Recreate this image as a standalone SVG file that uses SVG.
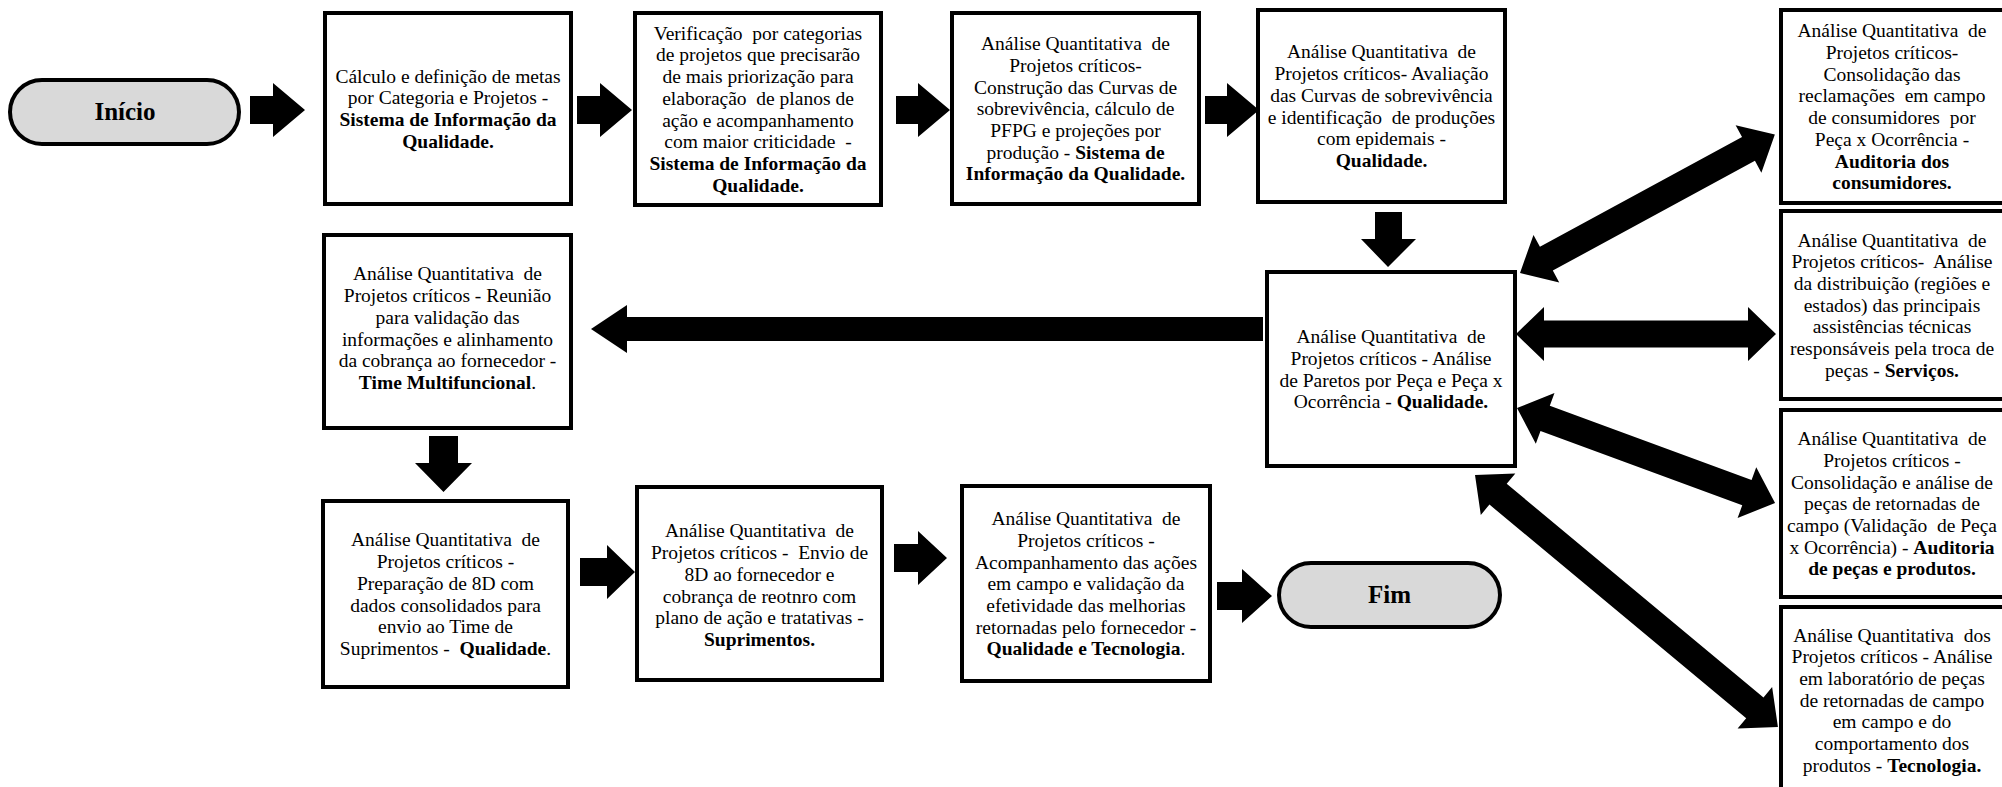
<svg xmlns="http://www.w3.org/2000/svg" width="2002" height="787" viewBox="0 0 2002 787">
<style>
.box{fill:#fff;stroke:#000;stroke-width:4}
.pill{fill:#d9d9d9;stroke:#000;stroke-width:4}
.t{font-family:"Liberation Serif","Times New Roman",serif;font-size:19.5px;text-anchor:middle;fill:#000;white-space:pre}
.b{font-weight:bold}
.tt{font-family:"Liberation Serif","Times New Roman",serif;font-size:25px;font-weight:bold;text-anchor:middle;fill:#000}
.arr{fill:#000}
</style>
<rect width="2002" height="787" fill="#fff"/>

<!-- connectors: block arrows -->
<g id="connectors">
  <polygon class="arr" points="250,96 273,96 273,83 305,110 273,137 273,124 250,124"/>
  <polygon class="arr" points="577,96 600,96 600,83 632,110 600,137 600,124 577,124"/>
  <polygon class="arr" points="896,96 918,96 918,83 950,110 918,137 918,124 896,124"/>
  <polygon class="arr" points="1205,96 1227,96 1227,83 1259,110 1227,137 1227,124 1205,124"/>
  <polygon class="arr" points="1375,212 1402,212 1402,239 1416,239 1388,267 1361,239 1375,239"/>
  <polygon class="arr" points="1263,317 627,317 627,305 591,329 627,353 627,341 1263,341"/>
  <polygon class="arr" points="429,436 458,436 458,463 472,463 443.5,492 415,463 429,463"/>
  <polygon class="arr" points="580,558 607,558 607,545 635,572 607,599 607,586 580,586"/>
  <polygon class="arr" points="894,544 918,544 918,531 947,558 918,585 918,572 894,572"/>
  <polygon class="arr" points="1217,582 1242,582 1242,569 1272,596 1242,623 1242,610 1217,610"/>
  <path class="arr" transform="translate(1520,273) rotate(-28.5)" d="M0,0 L30,-27 L30,-13.5 L260,-13.5 L260,-27 L290,0 L260,27 L260,13.5 L30,13.5 L30,27 Z"/>
  <path class="arr" transform="translate(1516,334)" d="M0,0 L28,-27 L28,-13.5 L232,-13.5 L232,-27 L260,0 L232,27 L232,13.5 L28,13.5 L28,27 Z"/>
  <path class="arr" transform="translate(1517,408) rotate(20.21)" d="M0,0 L30,-27 L30,-13.5 L245,-13.5 L245,-27 L275,0 L245,27 L245,13.5 L30,13.5 L30,27 Z"/>
  <path class="arr" transform="translate(1475,475) rotate(39.75)" d="M0,0 L30,-27 L30,-13.5 L364,-13.5 L364,-27 L394,0 L364,27 L364,13.5 L30,13.5 L30,27 Z"/>
</g>

<g id="inicio">
  <rect class="pill" x="10" y="80" width="229" height="64" rx="32"/>
  <text class="tt" x="125" y="120">Início</text>
</g>

<g id="metas">
  <rect class="box" x="325" y="13" width="246" height="191"/>
  <text class="t" x="448" y="82.5">Cálculo e definição de metas</text>
  <text class="t" x="448" y="104">por Categoria e Projetos -</text>
  <text class="t b" x="448" y="126">Sistema de Informação da</text>
  <text class="t b" x="448" y="147.5">Qualidade.</text>
</g>

<g id="verificacao">
  <rect class="box" x="635" y="13" width="246" height="192"/>
  <text class="t" x="758" y="39.5">Verificação  por categorias</text>
  <text class="t" x="758" y="61">de projetos que precisarão</text>
  <text class="t" x="758" y="83">de mais priorização para</text>
  <text class="t" x="758" y="104.5">elaboração  de planos de</text>
  <text class="t" x="758" y="126.5">ação e acompanhamento</text>
  <text class="t" x="758" y="148">com maior criticidade  -</text>
  <text class="t b" x="758" y="170">Sistema de Informação da</text>
  <text class="t b" x="758" y="191.5">Qualidade.</text>
</g>

<g id="curvas">
  <rect class="box" x="952" y="13" width="247" height="191"/>
  <text class="t" x="1075.5" y="50">Análise Quantitativa  de</text>
  <text class="t" x="1075.5" y="71.5">Projetos críticos-</text>
  <text class="t" x="1075.5" y="93.5">Construção das Curvas de</text>
  <text class="t" x="1075.5" y="115">sobrevivência, cálculo de</text>
  <text class="t" x="1075.5" y="136.5">PFPG e projeções por</text>
  <text class="t" x="1075.5" y="158.5">produção - <tspan class="b">Sistema de</tspan></text>
  <text class="t b" x="1075.5" y="180">Informação da Qualidade.</text>
</g>

<g id="avaliacao">
  <rect class="box" x="1258" y="10" width="247" height="192"/>
  <text class="t" x="1381.5" y="58">Análise Quantitativa  de</text>
  <text class="t" x="1381.5" y="80">Projetos críticos- Avaliação</text>
  <text class="t" x="1381.5" y="101.5">das Curvas de sobrevivência</text>
  <text class="t" x="1381.5" y="123.5">e identificação  de produções</text>
  <text class="t" x="1381.5" y="145">com epidemais -</text>
  <text class="t b" x="1381.5" y="167">Qualidade.</text>
</g>

<g id="reclamacoes">
  <rect class="box" x="1781" y="10" width="226" height="193"/>
  <text class="t" x="1892" y="37">Análise Quantitativa  de</text>
  <text class="t" x="1892" y="58.5">Projetos críticos-</text>
  <text class="t" x="1892" y="80.5">Consolidação das</text>
  <text class="t" x="1892" y="102">reclamações  em campo</text>
  <text class="t" x="1892" y="124">de consumidores  por</text>
  <text class="t" x="1892" y="145.5">Peça x Ocorrência -</text>
  <text class="t b" x="1892" y="167.5">Auditoria dos</text>
  <text class="t b" x="1892" y="189">consumidores.</text>
</g>

<g id="distribuicao">
  <rect class="box" x="1781" y="211" width="226" height="188"/>
  <text class="t" x="1892" y="246.5">Análise Quantitativa  de</text>
  <text class="t" x="1892" y="268">Projetos críticos-  Análise</text>
  <text class="t" x="1892" y="290">da distribuição (regiões e</text>
  <text class="t" x="1892" y="311.5">estados) das principais</text>
  <text class="t" x="1892" y="333">assistências técnicas</text>
  <text class="t" x="1892" y="355">responsáveis pela troca de</text>
  <text class="t" x="1892" y="376.5">peças - <tspan class="b">Serviços.</tspan></text>
</g>

<g id="pecas-retornadas">
  <rect class="box" x="1781" y="410" width="226" height="187"/>
  <text class="t" x="1892" y="445">Análise Quantitativa  de</text>
  <text class="t" x="1892" y="466.5">Projetos críticos -</text>
  <text class="t" x="1892" y="488.5">Consolidação e análise de</text>
  <text class="t" x="1892" y="510">peças de retornadas de</text>
  <text class="t" x="1892" y="531.5">campo (Validação  de Peça</text>
  <text class="t" x="1892" y="553.5">x Ocorrência) - <tspan class="b">Auditoria</tspan></text>
  <text class="t b" x="1892" y="575">de peças e produtos.</text>
</g>

<g id="laboratorio">
  <rect class="box" x="1781" y="607" width="226" height="190"/>
  <text class="t" x="1892" y="641.5">Análise Quantitativa  dos</text>
  <text class="t" x="1892" y="663">Projetos críticos - Análise</text>
  <text class="t" x="1892" y="685">em laboratório de peças</text>
  <text class="t" x="1892" y="706.5">de retornadas de campo</text>
  <text class="t" x="1892" y="728">em campo e do</text>
  <text class="t" x="1892" y="750">comportamento dos</text>
  <text class="t" x="1892" y="771.5">produtos - <tspan class="b">Tecnologia.</tspan></text>
</g>

<g id="paretos">
  <rect class="box" x="1267" y="272" width="248" height="194"/>
  <text class="t" x="1391" y="343">Análise Quantitativa  de</text>
  <text class="t" x="1391" y="364.5">Projetos críticos - Análise</text>
  <text class="t" x="1391" y="386.5">de Paretos por Peça e Peça x</text>
  <text class="t" x="1391" y="408">Ocorrência - <tspan class="b">Qualidade.</tspan></text>
</g>

<g id="reuniao">
  <rect class="box" x="324" y="235" width="247" height="193"/>
  <text class="t" x="447.5" y="280">Análise Quantitativa  de</text>
  <text class="t" x="447.5" y="302">Projetos críticos - Reunião</text>
  <text class="t" x="447.5" y="323.5">para validação das</text>
  <text class="t" x="447.5" y="345.5">informações e alinhamento</text>
  <text class="t" x="447.5" y="367">da cobrança ao fornecedor -</text>
  <text class="t" x="447.5" y="389"><tspan class="b">Time Multifuncional</tspan>.</text>
</g>

<g id="preparacao-8d">
  <rect class="box" x="323" y="501" width="245" height="186"/>
  <text class="t" x="445.5" y="546">Análise Quantitativa  de</text>
  <text class="t" x="445.5" y="568">Projetos críticos -</text>
  <text class="t" x="445.5" y="589.5">Preparação de 8D com</text>
  <text class="t" x="445.5" y="611.5">dados consolidados para</text>
  <text class="t" x="445.5" y="633">envio ao Time de</text>
  <text class="t" x="445.5" y="655">Suprimentos -  <tspan class="b">Qualidade</tspan>.</text>
</g>

<g id="envio-8d">
  <rect class="box" x="637" y="487" width="245" height="193"/>
  <text class="t" x="759.5" y="537">Análise Quantitativa  de</text>
  <text class="t" x="759.5" y="559">Projetos críticos -  Envio de</text>
  <text class="t" x="759.5" y="580.5">8D ao fornecedor e</text>
  <text class="t" x="759.5" y="602.5">cobrança de reotnro com</text>
  <text class="t" x="759.5" y="624">plano de ação e tratativas -</text>
  <text class="t b" x="759.5" y="646">Suprimentos.</text>
</g>

<g id="acompanhamento">
  <rect class="box" x="962" y="486" width="248" height="195"/>
  <text class="t" x="1086" y="525">Análise Quantitativa  de</text>
  <text class="t" x="1086" y="546.5">Projetos críticos -</text>
  <text class="t" x="1086" y="568.5">Acompanhamento das ações</text>
  <text class="t" x="1086" y="590">em campo e validação da</text>
  <text class="t" x="1086" y="611.5">efetividade das melhorias</text>
  <text class="t" x="1086" y="633.5">retornadas pelo fornecedor -</text>
  <text class="t" x="1086" y="655"><tspan class="b">Qualidade e Tecnologia</tspan>.</text>
</g>

<g id="fim">
  <rect class="pill" x="1279" y="563" width="221" height="64" rx="32"/>
  <text class="tt" x="1389.5" y="603">Fim</text>
</g>
</svg>
